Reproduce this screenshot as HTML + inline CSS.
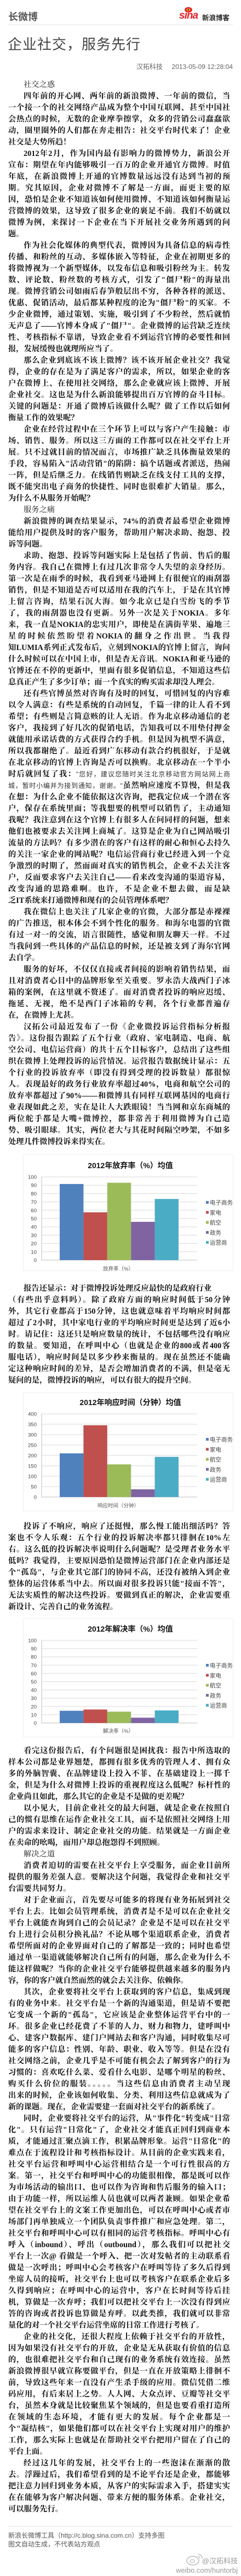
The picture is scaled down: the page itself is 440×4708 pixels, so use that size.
<!DOCTYPE html>
<html lang="zh-CN">
<head>
<meta charset="utf-8">
<style>
html,body{margin:0;padding:0;background:#fff;}
body{width:440px;height:4708px;position:relative;overflow:hidden;font-family:"Liberation Serif","Noto Serif CJK SC",serif;}
.abs{position:absolute;}
.sec{position:absolute;left:15px;width:405px;font-size:14.3px;line-height:21px;font-weight:bold;color:#111;}
.sec div{height:21px;white-space:nowrap;overflow:visible;text-align:justify;text-align-last:justify;}
.sec div.e{text-align-last:left;}
.sec div.i{padding-left:28px;}
.sec div.h{font-weight:normal;}
.q{font-weight:normal;font-size:12px;font-family:"Liberation Sans","Noto Sans CJK SC",sans-serif;color:#333;}
.sans{font-family:"Liberation Sans","Noto Sans CJK SC",sans-serif;}
</style>
</head>
<body>
<div class="abs sans" style="left:15px;top:17px;font-size:18px;font-weight:bold;color:#555;">长微博</div>
<div class="abs" style="left:325px;top:10px;width:105px;height:30px;">
  <svg width="105" height="30">
    <ellipse cx="19" cy="8" rx="7" ry="5" fill="#e5202a"/>
    <ellipse cx="19" cy="8" rx="3.5" ry="2.5" fill="#f6b21a"/>
    <circle cx="19" cy="8" r="1.3" fill="#222"/>
  </svg>
  <span class="sans" style="position:absolute;left:2px;top:8px;font-size:19px;font-weight:bold;font-style:italic;color:#e5202a;letter-spacing:-1px;">sina</span>
  <span class="sans" style="position:absolute;left:44px;top:12px;font-size:12.5px;font-weight:bold;color:#222;">新浪博客</span>
</div>
<div class="abs" style="left:15px;top:45px;width:410px;height:1px;background:#e3e3e3;"></div>
<div class="abs sans" style="left:14px;top:61px;font-size:26px;color:#444;letter-spacing:1px;">企业社交，服务先行</div>
<div class="abs sans" style="right:15px;top:113px;font-size:12px;color:#666;">汉拓科技&nbsp;&nbsp;&nbsp;&nbsp;&nbsp;2013-05-09 12:28:04</div>

<div class="sec" style="top:144.5px;">
<div class="i e h">社交之惑</div>
<div class="i">四年前的开心网、两年前的新浪微博、一年前的微信，当</div>
<div>一个接一个的社交网络产品成为整个中国互联网、甚至中国社</div>
<div>会热点的时候，无数的企业摩拳擦掌，众多的营销公司蠢蠢欲</div>
<div>动，圈里圈外的人们都在奔走相告：社交平台时代来了！企业</div>
<div class="e">社交是大势所趋！</div>
<div class="i">2012年2月，作为国内最有影响力的微博势力，新浪公开</div>
<div>宣布：期望在年内能够吸引一百万的企业开通官方微博。时值</div>
<div>年底，在新浪微博上开通的官博数量远远没有达到当初的预</div>
<div>期。究其原因，企业对微博不了解是一方面，而更主要的原</div>
<div>因，恐怕是企业不知道该如何使用微博、不知道该如何衡量运</div>
<div>营微博的效果，这导致了很多企业的裹足不前。我们不妨就以</div>
<div>微博为例，来探讨一下企业在当下开展社交业务所遇到的问</div>
<div class="e">题。</div>
<div class="i">作为社会化媒体的典型代表，微博因为具备信息的病毒性</div>
<div>传播、和粉丝的互动、多媒体嵌入等特征，企业在初期更多的</div>
<div>将微博视为一个新型媒体，以发布信息和吸引粉丝为主。转发</div>
<div>数、评论数、粉丝数的考核方式，引发了"僵尸粉"的海量出</div>
<div>现。微博营销公司如雨后春笋般层出不穷，各种各样的派送、</div>
<div>优惠、促销活动，最后都某种程度的沦为"僵尸粉"的买家。不</div>
<div>少企业微博，通过策划、实施，吸引到了不少粉丝，然后就悄</div>
<div>无声息了——官博本身成了"僵尸"。企业微博的运营缺乏连续</div>
<div>性、考核指标不靠谱，导致企业看不到运营官博的必要性和回</div>
<div class="e">报，发展缓慢也就理所应当了。</div>
<div class="i">那么企业到底该不该上微博？该不该开展企业社交？我觉</div>
<div>得，企业的存在是为了满足客户的需求，所以，如果企业的客</div>
<div>户在微博上、在使用社交网络，那么企业就应该上微博、开展</div>
<div>企业社交。这也是为什么新浪能够提出百万官博的奋斗目标。</div>
<div>关键的问题是：开通了微博后该做什么呢？做了工作以后如何</div>
<div class="e">衡量工作的效果呢？</div>
<div class="i">企业在经营过程中在三个环节上可以与客户产生接触：市</div>
<div>场、销售、服务。所以这三方面的工作都可以在社交平台上开</div>
<div>展。只不过就目前的情况而言，市场推广缺乏具体衡量效果的</div>
<div>手段，容易陷入"活动营销"的陷阱：搞个话题或者派送，热闹</div>
<div>一阵，但是后继乏力。在线销售则缺乏在线支付工具的支撑，</div>
<div>既不能突出电子商务的快捷性、同时也很难扩大销量。那么，</div>
<div class="e">为什么不从服务开始呢？</div>
<div class="i e h">服务之痛</div>
<div class="i">新浪微博的调查结果显示，74%的消费者最希望企业微博</div>
<div>能给用户提供及时的客户服务，帮助用户解决求助、抱怨、投</div>
<div class="e">诉等问题。</div>
<div class="i">求助、抱怨、投诉等问题实际上是包括了售前、售后的服</div>
<div>务内容。我自己在微博上有过几次非常令人失望的亲身经历。</div>
<div>第一次是在雨季的时候，我看到亚马逊网上有很便宜的雨刮器</div>
<div>销售，但是不知道是否可以适用在我的汽车上，于是在其官博</div>
<div>上留言咨询，结果石沉大海。如今北京已是白雪纷飞的季节</div>
<div>了，我的雨刮器也没有更新。另外一次是关于NOKIA。多年</div>
<div>来，我一直是NOKIA的忠实用户，即使是在满街苹果、遍地三</div>
<div>星的时候依然盼望着NOKIA的翻身之作出世。当我得</div>
<div>知LUMIA系列正式发布后，立刻到NOKIA的官博上留言，询问</div>
<div>什么时候可以在中国上市，但是杳无音讯。NOKIA和亚马逊的</div>
<div>官博还在不停的更新中，里面有很多促销信息，不知道这些信</div>
<div class="e">息真正产生了多少订单；而一个真实的购买需求却没人理会。</div>
<div class="i">还有些官博虽然对咨询有及时的回复，可惜回复的内容难</div>
<div>以令人满意：有些是系统的自动回复，千篇一律的让人看不到</div>
<div>希望；有些则是言简意赅的让人无语。作为北京移动通信的老</div>
<div>客户，我接到了好几次的促销电话，告知我可以不用垫付押金</div>
<div>就能用承诺话费的方式获得合约手机。但是因为机型不满意，</div>
<div>所以我都谢绝了。最近看到广东移动有款合约机很好，于是就</div>
<div>在北京移动的官博上咨询是否可以换购。北京移动在一个半小</div>
<div>时后就回复了我：<span class="q">"您好，建议您随时关注北京移动官方网站网上商</span></div>
<div><span class="q">城，暂时小编并为接到通知，谢谢。"</span>虽然响应速度不算慢，但是我</div>
<div>在想：为什么企业不能依据这次咨询，把我定位成一个潜在客</div>
<div>户，保存在系统里面；等我想要的机型可以销售了，主动通知</div>
<div>我呢？我注意到在这个官博上有很多人在问同样的问题，想来</div>
<div>他们也被要求去关注网上商城了。这算是企业为自己网站吸引</div>
<div>流量的方法吗？有多少潜在的客户有这样的耐心和恒心去持久</div>
<div>的关注一家企业的网站呢？电信运营商行业已经进入到一个竞</div>
<div>争激烈的时期了，然而面对真实的销售机会，企业不去关注客</div>
<div>户，反而要求客户去关注自己——看来改变沟通的渠道容易，</div>
<div>改变沟通的思路难啊。也许，不是企业不想去做，而是缺</div>
<div class="e">乏IT系统来打通微博和现有的会员管理体系吧？</div>
<div class="i">我在微信上也关注了几家企业的官微，大部分都是赤裸裸</div>
<div>的广告推送，根本体会不到个性化的服务。和海尔电器的官微</div>
<div>有过一对一的交流，语言很随性，感觉和朋友聊天一样。不过</div>
<div>当我问到一些具体的产品信息的时候，还是被支到了海尔官网</div>
<div class="e">去自学。</div>
<div class="i">服务的好坏，不仅仅直接或者间接的影响着销售结果，而</div>
<div>且对消费者心目中的品牌形象至关重要。罗永浩大战西门子冰</div>
<div>箱的案例，在这里就不赘述了。而对消费者投诉的响应迟缓、</div>
<div>拖延、无视，绝不是西门子冰箱的专利，各个行业都普遍存</div>
<div class="e">在，在微博上尤甚。</div>
<div class="i">汉拓公司最近发布了一份《企业微投诉运营指标分析报</div>
<div>告》。这份报告跟踪了五个行业（政府、家电制造、电商、航</div>
<div>空公司、电信运营商）的共十五个目标客户，总结出了这些组</div>
<div>织在微博上处理投诉的运营情况。运营报告数据统计显示：五</div>
<div>个行业的投诉放弃率（即没有得到受理的投诉数量）都很惊</div>
<div>人。表现最好的政务行业放弃率超过40%，电商和航空公司的</div>
<div>放弃率都超过了90%——和微博具有同样互联网基因的电商行</div>
<div>业表现如此之差，实在是让人大跌眼镜！当当网和京东商城的</div>
<div>两位舵手都是大嘴+微博控，都非常善于利用微博为自己造</div>
<div>势、吸引眼球。其实，两位老大与其花时间隔空吵架，不如多</div>
<div class="e">处理几件微博投诉来得实在。</div>
</div>

<svg id="chart1" class="abs" style="left:0;top:2110px;" width="440" height="214"></svg>

<div class="sec" style="top:2344.5px;">
<div class="i e">报告还显示：对于微博投诉处理反应最快的是政府行业</div>
<div>（有些出乎意料吗）。除了政府方面的响应时间低于50分钟</div>
<div>外，其它行业都高于150分钟，这也就意味着平均响应时间都</div>
<div>超过了2小时，其中家电行业的平均响应时间更是达到了近6小</div>
<div>时。请记住：这还只是响应数量的统计，不包括哪些没有响应</div>
<div>的数量。要知道，在呼叫中心（也就是企业的800或者400客</div>
<div>服电话），响应时间是以多少秒来衡量的。现在虽然还不能确</div>
<div>定这种响应时间的差异，是否会增加消费者的不满，但是毫无</div>
<div class="e">疑问的是，微博投诉的响应，可以有很大的提升空间。</div>
</div>

<svg id="chart2" class="abs" style="left:0;top:2545px;" width="440" height="218"></svg>

<div class="sec" style="top:2779.5px;">
<div class="i">投诉了不响应，响应了还挺慢，那么慢工能出细活吗？答</div>
<div>案也不令人乐观：五个行业的投诉解决率都只徘徊在10%左</div>
<div>右。这么低的投诉解决率说明什么问题呢？是受理者业务水平</div>
<div>低吗？我觉得，主要原因恐怕是微博运营部门在企业内部还是</div>
<div>个"孤岛"，与企业其它部门的协同不高，还没有被纳入到企业</div>
<div>整体的运营体系当中去。所以面对很多投诉只能"接而不答"，</div>
<div>无法实质性的解决这些投诉。要做到真正的解决，企业需要重</div>
<div class="e">新设计、完善自己的业务流程。</div>
</div>

<svg id="chart3" class="abs" style="left:0;top:2958px;" width="440" height="218"></svg>

<div class="sec" style="top:3189.5px;">
<div class="i">看完这份报告后，有个问题很是困扰我：报告中所选取的</div>
<div>样本公司都是业界翘楚，都拥有很多优秀的管理人才、拥有众</div>
<div>多的外脑智囊、在品牌建设上投入不菲、在基础建设上一掷千</div>
<div>金，但是为什么对微博上投诉的重视程度这么低呢？标杆性的</div>
<div class="e">企业尚且如此，那么其它的企业是不是做的更差呢？</div>
<div class="i">以小见大，目前企业社交的最大问题，就是企业在按照自</div>
<div>己的惯有思维在运作企业社交工具，而不是依照社交网络上用</div>
<div>户的需求来设计、制定企业社交的功能。结果就是一方面企业</div>
<div class="e">在卖命的吆喝，而用户却总抱怨得不到照顾。</div>
<div class="i e h">解决之道</div>
<div class="i">消费者迫切的需要在社交平台上享受服务，而企业目前所</div>
<div>提供的服务差强人意。要解决这个问题，我觉得企业和社交平</div>
<div class="e">台需要共同努力。</div>
<div class="i">对于企业而言，首先要尽可能多的将现有业务拓展到社交</div>
<div>平台上去。比如会员管理系统，消费者是不是可以在企业社交</div>
<div>平台上就能查询到自己的会员记录？企业是不是可以在社交平</div>
<div>台上进行会员积分换礼品？不论从哪个渠道联系企业，消费者</div>
<div>希望所面对的企业界面对自己的了解都是一致的；同时也希望</div>
<div>通过单一渠道就能够解决自己所有的问题，那么企业为什么不</div>
<div>能这样做呢？当你的企业社交平台能够提供越来越多的服务内</div>
<div class="e">容，你的客户就自然而然的就会去关注你、依赖你。</div>
<div class="i">其次，企业要将社交平台上获取到的客户信息，集成到现</div>
<div>有的业务中来。社交平台是一个新的沟通渠道，但是请不要把</div>
<div>它变成一个新的"孤岛"，它应该是企业整体运营平台中的一</div>
<div>环。很多企业已经花费了不菲的人力、财力和物力，建呼叫中</div>
<div>心、建客户数据库、建门户网站去和客户沟通，同时收集尽可</div>
<div>能多的客户信息：性别、年龄、职业、收入等等。但是在没有</div>
<div>社交网络之前，企业几乎是不可能有机会去了解到客户的行为</div>
<div>习惯的：喜欢吃什么菜、爱看什么电影、是哪个明星的粉丝、</div>
<div>购买什么价位的服装。。。。。当这些信息由消费者主动呈现</div>
<div>出来的时候，企业该如何收集、分类、利用这些信息就成为了</div>
<div class="e">新的课题。现在，企业需要建一套面对社交平台的新系统了。</div>
<div class="i">同时，企业要将社交平台的运营，从"事件化"转变成"日常</div>
<div>化"。只有运营"日常化"了，企业社交才能真正回归到商业本</div>
<div>质，才能通过汇聚点滴工作，积累品牌形象。运营"日常化"的</div>
<div>难点在于流程设计和考核指标设计。从目前的企业实践来看，</div>
<div>社交平台运营和呼叫中心运营相结合是一个可行性很高的方</div>
<div>案。第一，社交平台和呼叫中心的功能很相像，都是既可以作</div>
<div>为市场活动的输出口、也可以作为咨询和售后服务的输入口；</div>
<div>由于功能一样，所以运维人员也就可以两者兼顾。如果企业希</div>
<div>望在社交平台上的文案工作更加出色，可以在呼叫中心或者市</div>
<div>场部门再单独成立一个团队负责事件推广和应急处理。第二，</div>
<div>社交平台和呼叫中心可以有相同的运营考核指标。呼叫中心有</div>
<div>呼入（inbound）、呼出（outbound），那么我们可以把社交</div>
<div>平台上一次@ 看做是一个呼入、把一次对发帖者的主动联系看</div>
<div>做是一次呼出；呼叫中心会考核客户在呼叫等待了多久后得到</div>
<div>坐席人员的接听，社交平台上也可以考核客户在联系企业后多</div>
<div>久得到响应；在呼叫中心的运营中，客户在长时间等待后挂</div>
<div>机，算做是一次弃呼；我们可以把社交平台上一次没有得到应</div>
<div>答的咨询或者投诉也算做是弃呼。以此类推，我们就可以非常</div>
<div class="e">量化的对一个社交平台运营坐席的日常工作进行考核了。</div>
<div class="i">企业的社交化，还很大程度上依赖于社交平台的开放性，</div>
<div>因为如果没有社交平台的开放，企业是无从获取有价值的信息</div>
<div>的，也很难把社交平台和自己现有的业务系统有效连接。虽然</div>
<div>新浪微博很早就宣称要做平台，但是一直在开放策略上徘徊不</div>
<div>前，导致这些年来一直没有产生杀手级的应用。微信凭借二维</div>
<div>码应用，有后来居上之势。人人网、大众点评、豆瓣等社交平</div>
<div>台，虽然本身就是比较聚焦某个领域的，但是也要看重打造所</div>
<div>在领域的生态环境，才能有更大的发展。每个企业都是一</div>
<div>个"凝结核"，如果他们都可以在社交平台上实现对用户的维护</div>
<div>工作，那么实际上也就是在帮助社交平台把用户留在了自己的</div>
<div class="e">平台上面。</div>
<div class="i">经过这几年的发展，社交平台上的一些泡沫在渐渐的散</div>
<div>去。浮躁过后，我们希望看到的是不论平台还是企业，都能够</div>
<div>把注意力回归到业务本质，从客户的实际需求入手，搭建实实</div>
<div>在在能够为客户解决问题、带来方便的服务体系。企业社交，</div>
<div class="e">可以服务先行。</div>
</div>

<div class="abs" style="left:15px;top:4617px;width:410px;height:1px;background:#e3e3e3;"></div>
<div class="abs sans" style="left:15px;top:4626px;font-size:12px;line-height:16px;color:#555;">新浪长微博工具（http://c.blog.sina.com.cn）支持多图<br>图文自动生成，不代表站方观点</div>
<svg class="abs" style="left:338px;top:4664px;" width="34" height="26">
  <ellipse cx="14" cy="16" rx="11" ry="8" fill="none" stroke="#bbb" stroke-width="1.5"/>
  <ellipse cx="13" cy="17" rx="4" ry="3" fill="none" stroke="#bbb" stroke-width="1.2"/>
  <path d="M24 4 A8 8 0 0 1 31 12" fill="none" stroke="#bbb" stroke-width="1.5"/>
  <path d="M23 8 A4 4 0 0 1 27 12" fill="none" stroke="#bbb" stroke-width="1.3"/>
</svg>
<div class="abs sans" style="right:6px;top:4670px;font-size:13px;color:#999;">@汉拓科技</div>
<div class="abs sans" style="right:6px;top:4690px;font-size:13px;color:#999;">weibo.com/huntorbj</div>

<script>
const categories = ["电子商务", "家电", "航空", "政务", "运营商"];
const seriesColors = ["#4f81bd", "#c0504d", "#9bbb59", "#8064a2", "#4bacc6"];
const abandonValues = [91.5, 57.5, 93, 46, 73.5];
const abandonTicks = [0, 10, 20, 30, 40, 50, 60, 70, 80, 90, 100];
const responseValues = [210, 345, 157, 37, 193];
const responseTicks = [0, 50, 100, 150, 200, 250, 300, 350, 400];
const resolveValues = [14.8, 16.3, 13.7, 6.4, 15.2];
const resolveTicks = [0, 10, 20, 30, 40, 50, 60, 70, 80, 90, 100];
const chartTitles = ["2012年放弃率（%）均值", "2012年响应时间（分钟）均值", "2012年解决率（%）均值"];
const axisLabels = ["放弃率（%）", "响应时间（分钟）", "解决率（%）"];

const NS = "http://www.w3.org/2000/svg";
function mk(tag, attrs, parent) {
  const el = document.createElementNS(NS, tag);
  for (const k in attrs) el.setAttribute(k, attrs[k]);
  parent.appendChild(el);
  return el;
}
function drawChart(svgId, values, ticks, title, axisLabel, geo) {
  const svg = document.getElementById(svgId);
  const H = +svg.getAttribute("height");
  const box = mk("rect", {x: 42.5, y: 0.5, width: 383, height: H - 2, fill: "#fff", stroke: "#eeeeee"}, svg);
  
  
  const maxV = ticks[ticks.length - 1];
  const x0 = 76, x1 = 360, bx0 = 109, bx1 = 326;
  const yScale = v => geo.bottom - (v / maxV) * (geo.bottom - geo.top);
  ticks.forEach(t => {
    const y = yScale(t);
    const g = mk("line", {x1: x0, x2: x1, y1: y, y2: y, stroke: t === 0 ? "#bfbfbf" : "#d9d9d9", "stroke-width": 1}, svg);
    
    
    const tl = mk("text", {x: 67, y: y + 3.5, "text-anchor": "end", "font-size": 9.5, fill: "#444", "font-family": "Liberation Sans, sans-serif"}, svg);
    tl.textContent = t;
    
    
  });
  mk("line", {x1: x0, x2: x0, y1: geo.top, y2: geo.bottom, stroke: "#bfbfbf"}, svg);
  const bw = (bx1 - bx0) / values.length;
  values.forEach((v, i) => {
    const y = yScale(v);
    const r = mk("rect", {x: bx0 + i * bw, y: y, width: bw, height: geo.bottom - y, fill: seriesColors[i]}, svg);
    
    
  });
  const tt = mk("text", {x: 238, y: geo.titleY + 5, "text-anchor": "middle", "font-size": 14, "font-weight": "bold", fill: "#111", "font-family": "Liberation Sans, Noto Sans CJK SC, sans-serif"}, svg);
  tt.textContent = title;
  
  
  const xl = mk("text", {x: 216, y: geo.labelY + 4, "text-anchor": "middle", "font-size": 9.5, fill: "#555", "font-family": "Liberation Sans, Noto Sans CJK SC, sans-serif"}, svg);
  xl.textContent = axisLabel;
  
  
  categories.forEach((c, i) => {
    const ly = geo.legendY + i * 18.3;
    const sq = mk("rect", {x: 376, y: ly - 3, width: 5, height: 5, fill: seriesColors[i]}, svg);
    
    
    const lt = mk("text", {x: 383, y: ly + 3.5, "font-size": 10.5, fill: "#444", "font-family": "Liberation Sans, Noto Sans CJK SC, sans-serif"}, svg);
    lt.textContent = c;
    
    
  });
}
drawChart("chart1", abandonValues, abandonTicks, chartTitles[0], axisLabels[0], {top: 41, bottom: 193, titleY: 20, labelY: 208, legendY: 88});
drawChart("chart2", responseValues, responseTicks, chartTitles[1], axisLabels[1], {top: 39, bottom: 191, titleY: 18, labelY: 206, legendY: 86});
drawChart("chart3", resolveValues, resolveTicks, chartTitles[2], axisLabels[2], {top: 40, bottom: 191, titleY: 19, labelY: 205, legendY: 86});
</script>
</body>
</html>
